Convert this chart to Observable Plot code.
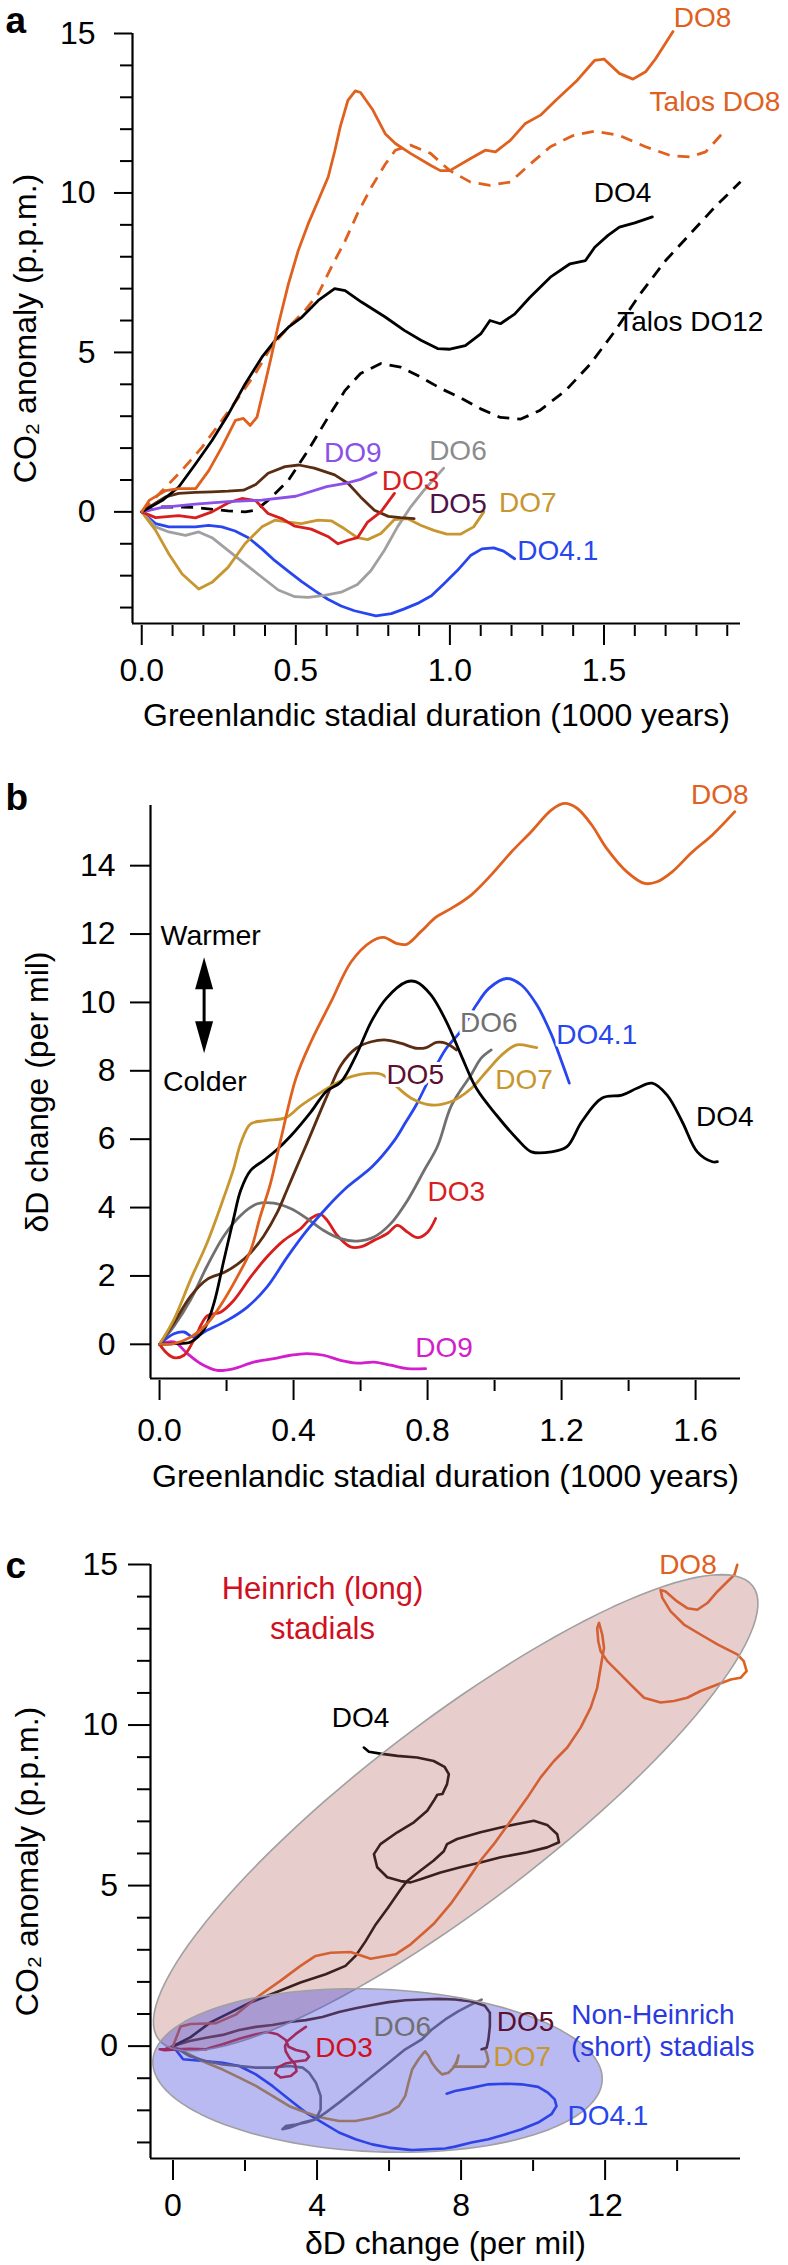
<!DOCTYPE html>
<html><head><meta charset="utf-8">
<script src="https://cdn.jsdelivr.net/npm/d3@7"></script>
<script src="https://cdn.jsdelivr.net/npm/@observablehq/plot@0.6"></script>
<style>
body{margin:0;background:#fff;}
#chart{width:788px;}
#chart svg{display:block;}
</style></head><body><div id="chart"></div>
<script>
const FONT = "'Liberation Sans', Arial, Helvetica, sans-serif";

// ---------- Panel a: CO2 anomaly (p.p.m.) vs stadial duration (kyr) ----------
const a_DO8 = [[0,0],[0.024,0.36],[0.078,0.67],[0.12,0.73],[0.175,0.73],[0.218,1.3],[0.26,2.03],[0.304,2.87],[0.33,2.93],[0.352,2.71],[0.374,2.97],[0.40,4.02],[0.42,4.85],[0.444,5.9],[0.476,7.15],[0.508,8.2],[0.54,9.03],[0.573,9.77],[0.605,10.5],[0.626,11.3],[0.644,12.07],[0.669,12.9],[0.693,13.2],[0.71,13.15],[0.75,12.6],[0.79,11.86],[0.823,11.55],[0.872,11.24],[0.937,10.87],[0.969,10.7],[1.0,10.7],[1.067,11.08],[1.115,11.34],[1.148,11.29],[1.196,11.65],[1.245,12.18],[1.294,12.44],[1.343,12.9],[1.41,13.5],[1.47,14.16],[1.5,14.2],[1.55,13.75],[1.594,13.57],[1.635,13.8],[1.667,14.2],[1.724,15.06]];
const a_TalosDO8 = [[0,0],[0.067,0.67],[0.13,1.3],[0.196,2.03],[0.26,2.87],[0.315,3.6],[0.368,4.33],[0.42,5.17],[0.476,5.79],[0.53,6.32],[0.573,6.84],[0.615,7.67],[0.66,8.5],[0.70,9.35],[0.745,10.18],[0.79,10.9],[0.823,11.34],[0.872,11.5],[0.937,11.24],[1.0,10.7],[1.067,10.34],[1.13,10.24],[1.196,10.34],[1.26,10.9],[1.326,11.45],[1.4,11.8],[1.47,11.94],[1.55,11.8],[1.635,11.45],[1.716,11.17],[1.78,11.13],[1.83,11.29],[1.894,11.97]];
const a_DO4 = [[0,0],[0.067,0.36],[0.12,0.78],[0.175,1.51],[0.228,2.24],[0.282,3.08],[0.336,4.02],[0.39,4.85],[0.433,5.38],[0.476,5.79],[0.52,6.11],[0.573,6.63],[0.626,7.0],[0.66,6.94],[0.713,6.58],[0.79,6.11],[0.852,5.69],[0.906,5.38],[0.96,5.12],[1.0,5.1],[1.05,5.21],[1.1,5.58],[1.13,6.0],[1.164,5.9],[1.21,6.2],[1.26,6.73],[1.326,7.36],[1.39,7.78],[1.44,7.88],[1.47,8.3],[1.513,8.67],[1.55,8.93],[1.6,9.06],[1.657,9.25]];
const a_TalosDO12 = [[0,0],[0.067,0.16],[0.174,0.14],[0.28,0.03],[0.336,0],[0.37,0.05],[0.41,0.36],[0.476,0.99],[0.54,1.93],[0.605,2.97],[0.66,3.81],[0.71,4.34],[0.776,4.65],[0.84,4.54],[0.905,4.23],[0.97,3.87],[1.03,3.6],[1.1,3.23],[1.164,2.96],[1.23,2.91],[1.29,3.17],[1.375,3.8],[1.456,4.64],[1.537,5.69],[1.618,6.84],[1.7,7.88],[1.78,8.72],[1.86,9.56],[1.943,10.35]];
const a_DO9 = [[0,0],[0.067,0.14],[0.174,0.24],[0.28,0.32],[0.39,0.37],[0.50,0.49],[0.60,0.79],[0.66,0.89],[0.71,1.02],[0.76,1.23]];
const a_DO3 = [[0,0],[0.045,-0.18],[0.12,-0.12],[0.174,-0.19],[0.228,0],[0.28,0.28],[0.325,0.42],[0.37,0.35],[0.41,-0.05],[0.454,-0.21],[0.497,-0.45],[0.55,-0.54],[0.604,-0.77],[0.637,-1.0],[0.669,-0.89],[0.70,-0.81],[0.733,-0.32],[0.776,0],[0.82,0.58]];
const a_DO5 = [[0,0],[0.034,0.21],[0.077,0.47],[0.12,0.58],[0.174,0.61],[0.228,0.63],[0.28,0.65],[0.33,0.68],[0.37,0.86],[0.41,1.21],[0.465,1.42],[0.51,1.47],[0.56,1.37],[0.626,1.16],[0.67,0.89],[0.71,0.47],[0.755,0.05],[0.80,-0.14],[0.84,-0.18],[0.884,-0.21]];
const a_DO7 = [[0,0],[0.045,-0.58],[0.088,-1.32],[0.131,-1.95],[0.185,-2.42],[0.228,-2.21],[0.28,-1.74],[0.335,-1.0],[0.39,-0.47],[0.432,-0.26],[0.475,-0.32],[0.518,-0.37],[0.572,-0.26],[0.615,-0.28],[0.658,-0.53],[0.70,-0.81],[0.733,-0.87],[0.776,-0.68],[0.82,-0.24],[0.862,-0.21],[0.905,-0.42],[0.948,-0.58],[0.99,-0.7],[1.034,-0.7],[1.077,-0.47],[1.11,0]];
const a_DO6 = [[0,0],[0.045,-0.47],[0.088,-0.63],[0.142,-0.74],[0.185,-0.63],[0.228,-0.81],[0.28,-1.21],[0.335,-1.63],[0.39,-2.05],[0.443,-2.45],[0.497,-2.66],[0.54,-2.68],[0.593,-2.62],[0.647,-2.52],[0.70,-2.28],[0.744,-1.84],[0.787,-1.21],[0.83,-0.47],[0.873,0.16],[0.916,0.68],[0.98,1.37]];
const a_DO41 = [[0,0],[0.045,-0.37],[0.088,-0.47],[0.174,-0.47],[0.217,-0.42],[0.26,-0.47],[0.303,-0.6],[0.346,-0.81],[0.39,-1.16],[0.432,-1.53],[0.475,-1.86],[0.518,-2.18],[0.561,-2.47],[0.604,-2.74],[0.647,-2.95],[0.69,-3.1],[0.76,-3.26],[0.81,-3.19],[0.85,-3.05],[0.895,-2.87],[0.94,-2.63],[0.98,-2.26],[1.024,-1.84],[1.067,-1.37],[1.104,-1.16],[1.142,-1.13],[1.174,-1.23],[1.21,-1.47]];
const labelsA = [
  {text:"DO8", x:1.82, y:15.48, color:"#e0601e"},
  {text:"Talos DO8", x:1.86, y:12.86, color:"#e0601e"},
  {text:"DO4", x:1.56, y:10.0, color:"#000000"},
  {text:"Talos DO12", x:1.78, y:5.95, color:"#000000"},
  {text:"DO9", x:0.685, y:1.86, color:"#8a50e8"},
  {text:"DO6", x:1.026, y:1.91, color:"#8c8c8c"},
  {text:"DO3", x:0.872, y:0.97, color:"#d81e1e"},
  {text:"DO5", x:1.026, y:0.26, color:"#4e1248"},
  {text:"DO7", x:1.253, y:0.29, color:"#c8962e"},
  {text:"DO4.1", x:1.35, y:-1.22, color:"#2846f0"}
];
const xTicksA = [0, 0.5, 1, 1.5];
const xMinorA = [0.1,0.2,0.3,0.4,0.6,0.7,0.8,0.9,1.1,1.2,1.3,1.4,1.6,1.7,1.8,1.9];
const yTicksA = [0, 5, 10, 15];
const yMinorA = [-3,-2,-1,1,2,3,4,6,7,8,9,11,12,13,14];

// ---------- Panel b: dD change (per mil) vs stadial duration ----------
const b_DO8 = [[0,0],[0.043,0.02],[0.093,0.21],[0.142,0.6],[0.192,1.29],[0.232,1.97],[0.272,2.75],[0.30,3.72],[0.331,4.7],[0.362,6.0],[0.407,7.78],[0.452,8.85],[0.512,10.02],[0.572,11.19],[0.632,11.78],[0.669,11.9],[0.707,11.73],[0.737,11.7],[0.78,12.07],[0.826,12.5],[0.871,12.75],[0.93,13.14],[0.99,13.73],[1.05,14.4],[1.11,15.0],[1.17,15.63],[1.208,15.82],[1.246,15.68],[1.29,15.19],[1.335,14.5],[1.395,13.82],[1.448,13.48],[1.485,13.53],[1.53,13.82],[1.59,14.4],[1.65,14.9],[1.717,15.58]];
const b_DO4 = [[0,0],[0.043,0.02],[0.093,0.07],[0.132,0.42],[0.162,1.19],[0.192,2.46],[0.222,3.72],[0.242,4.5],[0.272,5.09],[0.311,5.38],[0.351,5.7],[0.392,6.1],[0.452,6.8],[0.497,7.39],[0.542,7.68],[0.587,8.46],[0.632,9.44],[0.677,10.12],[0.737,10.6],[0.766,10.6],[0.81,10.22],[0.856,9.44],[0.9,8.46],[0.946,7.48],[1.006,6.7],[1.066,6.02],[1.11,5.63],[1.17,5.63],[1.216,5.78],[1.26,6.51],[1.32,7.2],[1.38,7.29],[1.425,7.49],[1.47,7.64],[1.515,7.29],[1.56,6.51],[1.605,5.63],[1.65,5.34],[1.665,5.34]];
const b_DO41 = [[0,0],[0.043,0.31],[0.073,0.36],[0.102,0.21],[0.142,0.41],[0.202,0.7],[0.262,1.09],[0.321,1.68],[0.381,2.55],[0.44,3.33],[0.50,4.01],[0.56,4.6],[0.635,5.2],[0.70,5.95],[0.735,6.5],[0.766,7.0],[0.811,7.88],[0.856,8.66],[0.894,9.1],[0.946,9.93],[0.983,10.41],[1.036,10.7],[1.08,10.51],[1.126,9.93],[1.17,9.05],[1.2,8.27],[1.223,7.64]];
const b_DO6 = [[0,0],[0.043,0.53],[0.093,1.31],[0.142,2.29],[0.192,3.17],[0.242,3.77],[0.292,4.11],[0.341,4.13],[0.391,3.97],[0.44,3.68],[0.49,3.33],[0.54,3.09],[0.59,3.02],[0.64,3.14],[0.69,3.53],[0.74,4.21],[0.79,5.09],[0.83,5.8],[0.871,6.98],[0.931,7.9],[0.96,8.37],[0.99,8.61]];
const b_DO7 = [[0,0],[0.043,0.73],[0.093,1.9],[0.142,2.97],[0.192,4.3],[0.22,5.1],[0.243,5.9],[0.272,6.45],[0.317,6.54],[0.377,6.63],[0.422,6.98],[0.482,7.37],[0.542,7.71],[0.602,7.9],[0.662,7.9],[0.707,7.54],[0.751,7.2],[0.811,7.0],[0.871,7.1],[0.931,7.49],[0.976,7.98],[1.021,8.46],[1.066,8.76],[1.11,8.71],[1.126,8.68]];
const b_DO5 = [[0,0],[0.043,0.63],[0.093,1.41],[0.142,1.9],[0.192,2.1],[0.232,2.34],[0.272,2.68],[0.311,3.17],[0.351,3.85],[0.381,4.53],[0.411,5.22],[0.441,5.9],[0.497,7.2],[0.542,8.17],[0.587,8.66],[0.632,8.85],[0.677,8.9],[0.722,8.8],[0.766,8.66],[0.796,8.68],[0.826,8.83],[0.856,8.8],[0.886,8.61]];
const b_DO3 = [[0,0],[0.023,-0.27],[0.043,-0.39],[0.073,-0.32],[0.102,0.12],[0.142,0.83],[0.182,0.94],[0.222,1.29],[0.272,1.97],[0.321,2.56],[0.371,3.04],[0.421,3.38],[0.451,3.68],[0.48,3.8],[0.50,3.63],[0.53,3.19],[0.57,2.85],[0.60,2.85],[0.64,3.04],[0.68,3.24],[0.71,3.48],[0.74,3.28],[0.77,3.12],[0.80,3.28],[0.824,3.68]];
const b_DO9 = [[0,0],[0.043,0.07],[0.083,-0.27],[0.122,-0.56],[0.172,-0.76],[0.222,-0.71],[0.281,-0.52],[0.341,-0.42],[0.391,-0.32],[0.44,-0.27],[0.49,-0.32],[0.54,-0.47],[0.59,-0.55],[0.64,-0.52],[0.69,-0.61],[0.74,-0.71],[0.794,-0.71]];
const labelsB = [
  {text:"DO8", x:1.672, y:16.07, color:"#e0601e"},
  {text:"DO6", x:0.983, y:9.39, color:"#707070"},
  {text:"DO4.1", x:1.305, y:9.05, color:"#2846f0"},
  {text:"DO5", x:0.763, y:7.88, color:"#5a1030"},
  {text:"DO7", x:1.088, y:7.73, color:"#c8962e"},
  {text:"DO4", x:1.687, y:6.66, color:"#000000"},
  {text:"DO3", x:0.886, y:4.44, color:"#d81e1e"},
  {text:"DO9", x:0.849, y:-0.1, color:"#d21ecb"}
];
const notesB = [{text:"Warmer", x:0.003, y:11.96},{text:"Colder", x:0.01, y:7.67}];
const arrowB = {x:0.133, top:11.32, bottom:8.51};
const xTicksB = [0, 0.4, 0.8, 1.2, 1.6];
const xMinorB = [0.2, 0.6, 1.0, 1.4];
const yTicksB = [0, 2, 4, 6, 8, 10, 12, 14];

// ---------- Panel c: CO2 anomaly vs dD change ----------
const c_DO8 = [[0,0],[0.21,0.61],[0.49,0.69],[1.18,0.71],[1.74,0.98],[2.43,1.6],[2.99,2.04],[3.54,2.5],[3.96,2.81],[4.38,2.91],[4.93,2.93],[5.49,2.72],[6.18,2.86],[6.6,3.17],[7.01,3.58],[7.24,3.81],[7.71,4.43],[8.17,5.16],[8.54,5.78],[8.91,6.29],[9.38,7.02],[9.84,7.74],[10.21,8.37],[10.58,8.88],[10.95,9.3],[11.32,9.92],[11.6,10.54],[11.78,11.16],[11.92,12.09],[11.97,12.4],[11.92,12.82],[11.83,13.18],[11.78,13.02],[11.81,12.61],[11.875,12.3],[12.06,11.99],[12.34,11.68],[12.71,11.26],[13.08,10.85],[13.54,10.7],[13.91,10.75],[14.28,10.85],[14.65,11.06],[15.12,11.26],[15.49,11.42],[15.76,11.47],[15.93,11.68],[15.85,11.99],[15.67,12.2],[15.49,12.3],[15.12,12.51],[14.65,12.82],[14.19,13.13],[13.82,13.54],[13.59,13.96],[13.54,14.21],[13.68,14.16],[14.0,13.85],[14.28,13.64],[14.56,13.59],[14.84,13.8],[15.12,14.16],[15.4,14.47],[15.59,14.68],[15.67,14.99]];
const c_DO4 = [[0,0],[0.49,0.28],[1.04,0.74],[1.6,1.05],[2.15,1.36],[2.85,1.67],[3.54,1.98],[4.24,2.24],[4.79,2.5],[5.07,2.81],[5.35,3.27],[5.63,3.79],[5.97,4.31],[6.32,4.88],[6.5,5.14],[6.875,5.47],[7.24,5.78],[7.52,6.07],[7.61,6.29],[7.89,6.45],[8.54,6.66],[9.1,6.81],[9.56,6.92],[10.02,7.02],[10.39,6.89],[10.67,6.6],[10.72,6.35],[10.39,6.19],[9.84,6.04],[9.1,5.88],[8.54,5.72],[7.98,5.57],[7.43,5.41],[6.875,5.2],[6.6,5.1],[6.32,5.14],[5.95,5.26],[5.67,5.57],[5.58,5.98],[5.76,6.29],[6.23,6.66],[6.69,6.97],[7.06,7.33],[7.24,7.64],[7.34,7.83],[7.48,7.85],[7.61,8.16],[7.66,8.47],[7.54,8.7],[7.24,8.88],[6.78,8.99],[6.23,9.04],[5.76,9.11],[5.44,9.17],[5.3,9.3]];
const c_DO5 = [[0,0],[0.46,0.16],[0.92,0.26],[1.38,0.35],[1.84,0.5],[2.3,0.6],[2.76,0.66],[3.23,0.75],[3.69,0.81],[4.15,0.91],[4.61,1.06],[5.07,1.18],[5.53,1.28],[5.99,1.37],[6.45,1.43],[6.91,1.45],[7.37,1.47],[7.83,1.45],[8.29,1.39],[8.66,1.26],[8.8,1.04],[8.8,0.62],[8.76,0.21],[8.71,-0.05],[8.57,-0.1]];
const c_DO3 = [[0,0],[-0.23,-0.1],[-0.37,-0.1],[-0.23,-0.13],[0.09,-0.1],[0.46,-0.08],[0.92,-0.1],[1.06,-0.04],[1.38,0.06],[1.84,0.23],[2.3,0.37],[2.63,0.44],[2.9,0.37],[3.13,0.19],[3.21,-0.02],[3.41,-0.12],[3.69,-0.19],[3.78,-0.33],[3.69,-0.44],[3.41,-0.48],[3.13,-0.54],[2.9,-0.67],[2.84,-0.85],[2.99,-0.98],[3.27,-0.93],[3.43,-0.78],[3.39,-0.57],[3.23,-0.36],[3.13,-0.16],[3.11,0],[3.18,0.16],[3.41,0.38],[3.69,0.6]];
const c_DO6 = [[0,0],[0.46,-0.31],[0.92,-0.47],[1.38,-0.57],[1.84,-0.62],[2.3,-0.67],[2.76,-0.67],[3.23,-0.62],[3.6,-0.67],[3.78,-0.83],[3.97,-1.14],[4.1,-1.55],[4.1,-1.97],[3.97,-2.28],[3.6,-2.38],[3.23,-2.54],[3.04,-2.59],[3.13,-2.49],[3.41,-2.44],[3.69,-2.38],[3.97,-2.28],[4.24,-2.07],[4.61,-1.76],[5.07,-1.35],[5.53,-0.93],[5.99,-0.52],[6.45,-0.1],[6.91,0.21],[7.19,0.52],[7.56,0.83],[7.93,1.09],[8.29,1.3],[8.57,1.45]];
const c_DO7 = [[0,0],[0.46,-0.26],[0.92,-0.52],[1.38,-0.73],[1.84,-0.98],[2.3,-1.24],[2.76,-1.55],[3.23,-1.87],[3.69,-2.07],[4.15,-2.23],[4.61,-2.33],[5.07,-2.33],[5.53,-2.23],[5.99,-2.07],[6.27,-1.87],[6.45,-1.55],[6.54,-1.14],[6.64,-0.73],[6.82,-0.41],[6.96,-0.21],[7.0,-0.16],[7.1,-0.31],[7.19,-0.52],[7.33,-0.73],[7.47,-0.88],[7.65,-0.83],[7.79,-0.67],[7.88,-0.47],[7.93,-0.29],[7.88,-0.52],[7.79,-0.64],[7.93,-0.64],[8.29,-0.64],[8.66,-0.64],[8.76,-0.47],[8.71,-0.21],[8.66,-0.1]];
const c_DO41 = [[0,0],[0.28,-0.41],[0.92,-0.47],[1.38,-0.52],[1.84,-0.62],[2.3,-0.88],[2.76,-1.24],[3.23,-1.66],[3.69,-2.07],[4.15,-2.38],[4.61,-2.69],[5.07,-2.9],[5.53,-3.06],[5.99,-3.16],[6.64,-3.24],[7.1,-3.21],[7.56,-3.19],[7.83,-3.13],[8.29,-3.0],[8.76,-2.9],[9.22,-2.75],[9.68,-2.59],[10.14,-2.38],[10.51,-2.12],[10.65,-1.87],[10.6,-1.66],[10.41,-1.45],[10.14,-1.27],[9.68,-1.19],[9.22,-1.17],[8.76,-1.19],[8.29,-1.3],[7.83,-1.4],[7.6,-1.48]];
// ellipses: centre and two conjugate semi-axis vectors (data units)
const ellipseHeinrich = {cx:7.85, cy:7.27, ux:8.25, uy:7.06, vx:1.55, vy:-2.27};
const ellipseNonHeinrich = {cx:5.68, cy:-0.76, ux:6.24, uy:-0.30, vx:-0.1, vy:-2.53};
const labelsC = [
  {text:"DO8", x:14.3, y:14.97, color:"#e0601e"},
  {text:"DO4", x:5.21, y:10.23, color:"#000000"},
  {text:"DO5", x:9.79, y:0.75, color:"#5a1030"},
  {text:"DO3", x:4.75, y:-0.07, color:"#d0101e"},
  {text:"DO6", x:6.37, y:0.6, color:"#707070"},
  {text:"DO7", x:9.7, y:-0.33, color:"#c8962e"},
  {text:"DO4.1", x:12.08, y:-2.17, color:"#2846f0"},
  {text:"Non-Heinrich", x:13.33, y:0.96, color:"#2a3ae0"},
  {text:"(short) stadials", x:13.6, y:-0.02, color:"#2a3ae0"}
];
const labelsHeinrich = [
  {text:"Heinrich (long)", x:4.15, y:14.25},
  {text:"stadials", x:4.15, y:13.0}
];
const xTicksC = [0, 4, 8, 12];
const xMinorC = [2, 6, 10, 14];
const yTicksC = [0, 5, 10, 15];
const yMinorC = [-3,-2,-1,1,2,3,4,6,7,8,9,11,12,13,14];

// ---------- helpers ----------
const X = d => d[0], Y = d => d[1];
function series(pts, color, opts = {}) {
  return Plot.line(pts, {x: X, y: Y, stroke: color, strokeWidth: 2.8, strokeLinejoin: "round", strokeLinecap: "round", ...opts});
}
function ellipsePts(e) {
  return d3.range(0, 361, 3).map(a => {
    const t = a * Math.PI / 180;
    return [e.cx + e.ux * Math.cos(t) + e.vx * Math.sin(t), e.cy + e.uy * Math.cos(t) + e.vy * Math.sin(t)];
  });
}
function frameAxes(xd, yd, yTop) {
  return [
    Plot.ruleX([xd[0]], {x: d => d, y1: yd[0], y2: yTop, strokeWidth: 2.2}),
    Plot.ruleY([yd[0]], {y: d => d, x1: xd[0], x2: xd[1], strokeWidth: 2.2})
  ];
}
function yTitle(text, dx) {
  return Plot.text([text], {text: d => d, frameAnchor: "left", rotate: -90, dx, fontSize: 32, textAnchor: "middle", lineAnchor: "middle"});
}
function xTitle(text, dy) {
  return Plot.text([text], {text: d => d, frameAnchor: "bottom", dy, fontSize: 32, textAnchor: "middle", lineAnchor: "middle"});
}
function panelLetter(letter, dx, dy) {
  return Plot.text([letter], {text: d => d, frameAnchor: "top-left", dx, dy, textAnchor: "start", lineAnchor: "middle", fontSize: 37, fontWeight: "bold"});
}
const empty = () => "";
const chart = document.getElementById("chart");
const baseStyle = {fontFamily: FONT, background: "white", overflow: "visible", color: "black"};

// ---------- Panel a ----------
{
  const xd = [-0.03, 1.943], yd = [-3.5, 15];
  const fig = Plot.plot({
    width: 788, height: 750, marginLeft: 132, marginRight: 48, marginTop: 33, marginBottom: 127,
    x: {domain: xd, axis: null}, y: {domain: yd, axis: null}, color: {type: "identity"},
    style: baseStyle,
    marks: [
      ...frameAxes(xd, yd, 15),
      Plot.axisY(yTicksA, {anchor: "left", tickSize: 18, tickPadding: 19, fontSize: 32, label: null, tickFormat: d3.format("d"), strokeWidth: 2}),
      Plot.axisY(yMinorA, {anchor: "left", tickSize: 12, tickFormat: empty, label: null, strokeWidth: 2}),
      Plot.axisX(xTicksA, {anchor: "bottom", tickSize: 20, tickFormat: empty, label: null, strokeWidth: 2, dy: 2}),
      Plot.axisX(xMinorA, {anchor: "bottom", tickSize: 11, tickFormat: empty, label: null, strokeWidth: 2, dy: 2}),
      Plot.axisX(xTicksA, {anchor: "bottom", tickSize: 0, tickPadding: 35, fontSize: 32, label: null, tickFormat: d3.format(".1f")}),
      xTitle("Greenlandic stadial duration (1000 years)", 92),
      yTitle("CO₂ anomaly (p.p.m.)", -107),
      panelLetter("a", -127, -12),
      series(a_TalosDO12, "#000000", {strokeDasharray: "12,8", strokeLinecap: "butt"}),
      series(a_TalosDO8, "#e0601e", {strokeDasharray: "12,8", strokeLinecap: "butt"}),
      series(a_DO41, "#2846f0"),
      series(a_DO6, "#a0a0a0"),
      series(a_DO7, "#c8962e"),
      series(a_DO5, "#5a2d12"),
      series(a_DO3, "#d81e1e"),
      series(a_DO9, "#8a50e8"),
      series(a_DO4, "#000000"),
      series(a_DO8, "#e0601e"),
      Plot.text(labelsA, {x: "x", y: "y", text: "text", fill: "color", fontSize: 28, textAnchor: "middle", lineAnchor: "middle"})
    ]
  });
  chart.appendChild(fig);
}

// ---------- Panel b ----------
{
  const xd = [-0.027, 1.734], yd = [-1, 15.76];
  const headShape = {draw(ctx, l) { ctx.moveTo(0, -l); ctx.lineTo(-9, 0); ctx.lineTo(9, 0); ctx.closePath(); }};
  const heads = [{x: arrowB.x, y: arrowB.top, r: 0}, {x: arrowB.x, y: arrowB.bottom, r: 180}];
  const fig = Plot.plot({
    width: 788, height: 750, marginLeft: 150, marginRight: 48, marginTop: 55, marginBottom: 122,
    x: {domain: xd, axis: null}, y: {domain: yd, axis: null}, color: {type: "identity"},
    style: baseStyle,
    marks: [
      ...frameAxes(xd, yd, yd[1]),
      Plot.axisY(yTicksB, {anchor: "left", tickSize: 20, tickPadding: 15, fontSize: 32, label: null, tickFormat: d3.format("d"), strokeWidth: 2}),
      Plot.axisX(xTicksB, {anchor: "bottom", tickSize: 20, tickFormat: empty, label: null, strokeWidth: 2, dy: 2}),
      Plot.axisX(xMinorB, {anchor: "bottom", tickSize: 11, tickFormat: empty, label: null, strokeWidth: 2, dy: 2}),
      Plot.axisX(xTicksB, {anchor: "bottom", tickSize: 0, tickPadding: 40, fontSize: 32, label: null, tickFormat: d3.format(".1f")}),
      xTitle("Greenlandic stadial duration (1000 years)", 98),
      yTitle("δD change (per mil)", -113),
      panelLetter("b", -145, -7.5),
      series(b_DO9, "#d21ecb", {curve: "catmull-rom"}),
      series(b_DO3, "#d81e1e", {curve: "catmull-rom"}),
      series(b_DO6, "#707070", {curve: "catmull-rom"}),
      series(b_DO41, "#2846f0", {curve: "catmull-rom"}),
      series(b_DO5, "#5a2d12", {curve: "catmull-rom"}),
      series(b_DO7, "#c8962e", {curve: "catmull-rom"}),
      series(b_DO4, "#000000", {curve: "catmull-rom"}),
      series(b_DO8, "#e0601e", {curve: "catmull-rom"}),
      Plot.text(labelsB, {x: "x", y: "y", text: "text", fill: "color", stroke: "white", strokeWidth: 6, fontSize: 28, textAnchor: "middle", lineAnchor: "middle"}),
      Plot.text(notesB, {x: "x", y: "y", text: "text", fontSize: 28.5, textAnchor: "start", lineAnchor: "middle"}),
      Plot.ruleX([arrowB], {x: "x", y1: "top", y2: "bottom", strokeWidth: 3, insetTop: 20, insetBottom: 20}),
      Plot.vector(heads, {x: "x", y: "y", rotate: "r", length: 32, anchor: "end", shape: headShape, fill: "black", stroke: "none"})
    ]
  });
  chart.appendChild(fig);
}

// ---------- Panel c ----------
{
  const xd = [-0.625, 15.76], yd = [-3.5, 15];
  const fig = Plot.plot({
    width: 788, height: 765, marginLeft: 150, marginRight: 48, marginTop: 64, marginBottom: 107,
    x: {domain: xd, axis: null}, y: {domain: yd, axis: null}, color: {type: "identity"},
    style: baseStyle,
    marks: [
      ...frameAxes(xd, yd, 15),
      Plot.axisY(yTicksC, {anchor: "left", tickSize: 22, tickPadding: 10.5, fontSize: 32, label: null, tickFormat: d3.format("d"), strokeWidth: 2}),
      Plot.axisY(yMinorC, {anchor: "left", tickSize: 13, tickFormat: empty, label: null, strokeWidth: 2}),
      Plot.axisX(xTicksC, {anchor: "bottom", tickSize: 20, tickFormat: empty, label: null, strokeWidth: 2, dy: 2}),
      Plot.axisX(xMinorC, {anchor: "bottom", tickSize: 11, tickFormat: empty, label: null, strokeWidth: 2, dy: 2}),
      Plot.axisX(xTicksC, {anchor: "bottom", tickSize: 0, tickPadding: 35, fontSize: 32, label: null, tickFormat: d3.format("d")}),
      xTitle("δD change (per mil)", 85),
      yTitle("CO₂ anomaly (p.p.m.)", -123),
      panelLetter("c", -145, 2),
      series(c_DO41, "#2846f0", {strokeWidth: 2.6}),
      series(c_DO7, "#c8962e", {strokeWidth: 2.6}),
      series(c_DO6, "#707070", {strokeWidth: 2.6}),
      series(c_DO3, "#d81e1e", {strokeWidth: 2.6}),
      series(c_DO5, "#5a2d12", {strokeWidth: 2.6}),
      series(c_DO4, "#000000", {strokeWidth: 2.6}),
      series(c_DO8, "#e0601e", {strokeWidth: 2.6}),
      Plot.line(ellipsePts(ellipseHeinrich), {x: X, y: Y, fill: "#b86464", fillOpacity: 0.32, stroke: "#a0a0a0", strokeWidth: 1.6}),
      Plot.line(ellipsePts(ellipseNonHeinrich), {x: X, y: Y, fill: "#3a3fd8", fillOpacity: 0.36, stroke: "#a0a0a0", strokeWidth: 1.6}),
      Plot.text(labelsHeinrich, {x: "x", y: "y", text: "text", fill: "#d0101e", fontSize: 31, textAnchor: "middle", lineAnchor: "middle"}),
      Plot.text(labelsC, {x: "x", y: "y", text: "text", fill: "color", fontSize: 28, textAnchor: "middle", lineAnchor: "middle"})
    ]
  });
  chart.appendChild(fig);
}
</script>
</body></html>
